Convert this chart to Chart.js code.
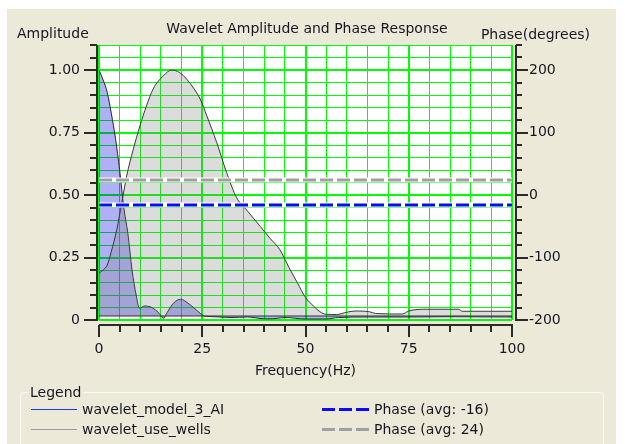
<!DOCTYPE html>
<html>
<head>
<meta charset="utf-8">
<script src="https://cdn.jsdelivr.net/npm/chart.js@4.4.1/dist/chart.umd.min.js"></script>
<style>
  html, body { margin: 0; padding: 0; background: #ffffff; width: 625px; height: 444px; overflow: hidden; }
  body { font-family: "DejaVu Sans", sans-serif; font-size: 14px; color: #161622; }
  #panel { position: absolute; left: 7px; top: 9px; width: 609px; height: 440px; background: #ECE9D8; }
  #c { position: absolute; left: 0; top: 0; }
  #legendBox { position: absolute; left: 20px; top: 392px; width: 584px; height: 70px; box-sizing: border-box;
               border: 1px solid #fbfbf8; border-radius: 4px; }
  #legendTitle { position: absolute; left: 28px; top: 384px; padding: 0 2px; background: #ECE9D8; line-height: 17px; }
  .item { position: absolute; line-height: 17px; white-space: nowrap; }
  .sw { position: absolute; }
</style>
</head>
<body>
<div id="panel"></div>
<canvas id="c" width="625" height="385"></canvas>
<div id="legendBox"></div>
<div id="legendTitle">Legend</div>
<div id="legendItems"></div>
<script>
// ---------------- data ----------------
const chartTitle = 'Wavelet Amplitude and Phase Response';
const leftAxisTitle = 'Amplitude';
const rightAxisTitle = 'Phase(degrees)';
const xAxisTitle = 'Frequency(Hz)';

const seriesNames = ['wavelet_model_3_AI', 'wavelet_use_wells'];

const freqModel = [0, 1, 2, 3, 4, 5, 6, 7, 8, 9, 9.8, 11, 12.5, 14, 15, 15.6, 16.5, 18, 19.8, 21.5, 23, 24.5, 25.5, 28, 32, 36, 40, 42, 45, 50, 55, 58, 65, 75, 85, 100];
const ampModel  = [1.0, 0.96, 0.91, 0.825, 0.725, 0.6, 0.45, 0.345, 0.2, 0.1, 0.047, 0.056, 0.052, 0.036, 0.018, 0.007, 0.03, 0.067, 0.083, 0.068, 0.048, 0.027, 0.016, 0.013, 0.01, 0.012, 0.005, 0.005, 0.01, 0.004, 0.004, 0.01, 0.012, 0.012, 0.013, 0.012];

const freqWells = [0, 1, 2, 3, 4.3, 5.5, 6.7, 8.3, 9.9, 11.5, 13.1, 15.6, 17.6, 19.5, 21.2, 23, 24.5, 26.1, 28.5, 30.9, 33.3, 36, 39, 41.5, 43.8, 46, 48, 50, 52, 53.5, 55, 57.5, 60, 62, 65.5, 67, 73.5, 75, 79, 87, 88, 100];
const ampWells  = [0.187, 0.2, 0.22, 0.275, 0.361, 0.468, 0.576, 0.683, 0.776, 0.857, 0.924, 0.977, 1.0, 0.99, 0.964, 0.925, 0.884, 0.817, 0.71, 0.59, 0.49, 0.435, 0.375, 0.325, 0.281, 0.21, 0.15, 0.09, 0.055, 0.033, 0.023, 0.022, 0.031, 0.036, 0.033, 0.026, 0.024, 0.036, 0.043, 0.043, 0.035, 0.035];

const baselineAmp = 0.016;

const phaseNames = ['Phase (avg: -16)', 'Phase (avg: 24)'];
const phaseAvg = [-16, 24];

const xRange = [0, 100];
const ampRange = [0, 1.1];
const phaseRange = [-200, 240];

const xTickValues = [0, 25, 50, 75, 100];
const xTickLabels = ['0', '25', '50', '75', '100'];
const ampTickValues = [0, 0.25, 0.5, 0.75, 1.0];
const ampTickLabels = ['0', '0.25', '0.50', '0.75', '1.00'];
const phaseTickValues = [-200, -100, 0, 100, 200];
const phaseTickLabels = ['-200', '-100', '0', '100', '200'];

// ---------------- styles ----------------
const FONT = '"DejaVu Sans", sans-serif';
const TEXT = '#161622';
const GRID = '#00ff00';
const AXIS = '#2a2a2a';
const modelFill = 'rgba(0,0,230,0.31)';
const wellsFill = 'rgba(128,128,128,0.28)';
const phaseColors = ['#0a0aff', '#a0a0a0'];
const legendLineColors = ['#1a3cff', '#9a9a9a'];

function lookup(values, labels, v) {
  const i = values.findIndex(x => Math.abs(x - v) < 1e-6);
  return i >= 0 ? labels[i] : '';
}
function isMajor(values, v) { return values.some(x => Math.abs(x - v) < 1e-6); }
function pts(xs, ys) { return xs.map((x, i) => ({ x: x, y: ys[i] })); }
function flat(v) { return [{ x: xRange[0], y: v }, { x: xRange[1], y: v }]; }

const datasets = [];
phaseAvg.forEach((v, i) => {
  datasets.push({ label: phaseNames[i], data: flat(v), yAxisID: 'y2', order: 0,
    borderColor: phaseColors[i], borderWidth: 3, borderDash: [13, 4], pointRadius: 0, fill: false });
});
phaseAvg.forEach((v, i) => {
  datasets.push({ label: 'halo' + i, data: flat(v), yAxisID: 'y2', order: 1,
    borderColor: '#ffffff', borderWidth: 5, pointRadius: 0, fill: false });
});
datasets.push({ label: 'baseline', data: flat(baselineAmp), yAxisID: 'y', order: 2,
  borderColor: '#303030', borderWidth: 1, pointRadius: 0, fill: false });
datasets.push({ label: seriesNames[1], data: pts(freqWells, ampWells), yAxisID: 'y', order: 3,
  borderColor: '#383838', borderWidth: 1, backgroundColor: wellsFill, pointRadius: 0,
  cubicInterpolationMode: 'monotone', fill: { value: baselineAmp } });
datasets.push({ label: seriesNames[0], data: pts(freqModel, ampModel), yAxisID: 'y', order: 4,
  borderColor: '#262626', borderWidth: 1, backgroundColor: modelFill, pointRadius: 0,
  cubicInterpolationMode: 'monotone', fill: { value: baselineAmp } });

const decorPlugin = {
  id: 'decor',
  beforeDraw(chart) {
    const { ctx, chartArea: a } = chart;
    ctx.save();
    ctx.fillStyle = '#ffffff';
    ctx.fillRect(a.left, a.top, a.right - a.left, a.bottom - a.top);
    ctx.restore();
  },
  afterDraw(chart) {
    const { ctx, chartArea: a } = chart;
    const sx = chart.scales.x, sy = chart.scales.y, sy2 = chart.scales.y2;
    ctx.save();
    ctx.strokeStyle = AXIS;
    ctx.lineWidth = 2;
    const seg = (x1, y1, x2, y2) => { ctx.beginPath(); ctx.moveTo(x1, y1); ctx.lineTo(x2, y2); ctx.stroke(); };
    // left axis
    const lx = Math.round(a.left) - 2;
    seg(lx, a.top, lx, a.bottom + 1);
    sy.ticks.forEach(t => {
      const p = Math.round(sy.getPixelForValue(t.value));
      const len = isMajor(ampTickValues, t.value) ? 13 : 7;
      seg(lx - len, p, lx, p);
    });
    // right axis
    const rx = Math.round(a.right) + 4;
    seg(rx, a.top, rx, a.bottom + 1);
    sy2.ticks.forEach(t => {
      const p = Math.round(sy2.getPixelForValue(t.value));
      const len = isMajor(phaseTickValues, t.value) ? 12 : 6;
      seg(rx, p, rx + len, p);
    });
    // bottom axis
    const by = Math.round(a.bottom) + 5;
    seg(a.left, by, a.right + 1, by);
    sx.ticks.forEach(t => {
      const p = Math.round(sx.getPixelForValue(t.value));
      const len = isMajor(xTickValues, t.value) ? 12 : 7;
      seg(p, by, p, by + len);
    });
    // header texts
    ctx.fillStyle = TEXT;
    ctx.font = '14px ' + FONT;
    ctx.textBaseline = 'middle';
    ctx.textAlign = 'center';
    ctx.fillText(chartTitle, 307, 29);
    ctx.textAlign = 'left';
    ctx.fillText(leftAxisTitle, 17, 34);
    ctx.textAlign = 'right';
    ctx.fillText(rightAxisTitle, 590, 35);
    ctx.restore();
  }
};

Chart.defaults.font.family = FONT;
Chart.defaults.font.size = 14;
Chart.defaults.color = TEXT;

new Chart(document.getElementById('c'), {
  type: 'line',
  data: { datasets: datasets },
  options: {
    responsive: false,
    animation: false,
    devicePixelRatio: 1,
    layout: { padding: { left: 0, right: 0, top: 45, bottom: 0 }, autoPadding: false },
    plugins: { legend: { display: false }, tooltip: { enabled: false }, title: { display: false } },
    elements: { line: { tension: 0 } },
    scales: {
      x: {
        type: 'linear', min: xRange[0], max: xRange[1],
        afterFit(s) { s.height = 65; },
        border: { display: false },
        grid: { color: GRID, drawTicks: false,
          lineWidth: c => (c.tick && isMajor(xTickValues, c.tick.value)) ? 2 : 1 },
        ticks: { stepSize: 5, autoSkip: false, maxRotation: 0, padding: 21, color: TEXT,
          callback: v => lookup(xTickValues, xTickLabels, v) },
        title: { display: true, text: xAxisTitle, color: TEXT, padding: { top: 0, bottom: 5 } }
      },
      y: {
        type: 'linear', position: 'left', min: ampRange[0], max: ampRange[1],
        afterFit(s) { s.width = 99; },
        border: { display: false },
        grid: { color: GRID, drawTicks: false,
          lineWidth: c => (c.tick && isMajor(ampTickValues, c.tick.value)) ? 2 : 1 },
        ticks: { stepSize: 0.05, autoSkip: false, padding: 19, color: TEXT,
          callback: v => lookup(ampTickValues, ampTickLabels, v) }
      },
      y2: {
        type: 'linear', position: 'right', min: phaseRange[0], max: phaseRange[1],
        afterFit(s) { s.width = 113; },
        border: { display: false },
        grid: { display: true, drawOnChartArea: false, drawTicks: false },
        ticks: { stepSize: 20, autoSkip: false, padding: 17, color: TEXT,
          callback: v => lookup(phaseTickValues, phaseTickLabels, v) }
      }
    }
  },
  plugins: [decorPlugin]
});

// ---------------- HTML legend ----------------
const items = document.getElementById('legendItems');
const rows = [409, 429];
seriesNames.forEach((name, i) => {
  const sw = document.createElement('div');
  sw.className = 'sw';
  sw.style.cssText = `left:31px;top:${rows[i]}px;width:46px;height:1px;background:${legendLineColors[i]};`;
  items.appendChild(sw);
  const t = document.createElement('div');
  t.className = 'item';
  t.style.cssText = `left:82px;top:${rows[i] - 8}px;`;
  t.textContent = name;
  items.appendChild(t);
});
phaseNames.forEach((name, i) => {
  const sw = document.createElement('div');
  sw.className = 'sw';
  sw.style.cssText = `left:322px;top:${rows[i] - 1}px;width:49px;height:3px;` +
    `background:repeating-linear-gradient(to right, ${phaseColors[i]} 0 13px, transparent 13px 17px);`;
  items.appendChild(sw);
  const t = document.createElement('div');
  t.className = 'item';
  t.style.cssText = `left:374px;top:${rows[i] - 8}px;`;
  t.textContent = name;
  items.appendChild(t);
});
</script>
</body>
</html>
